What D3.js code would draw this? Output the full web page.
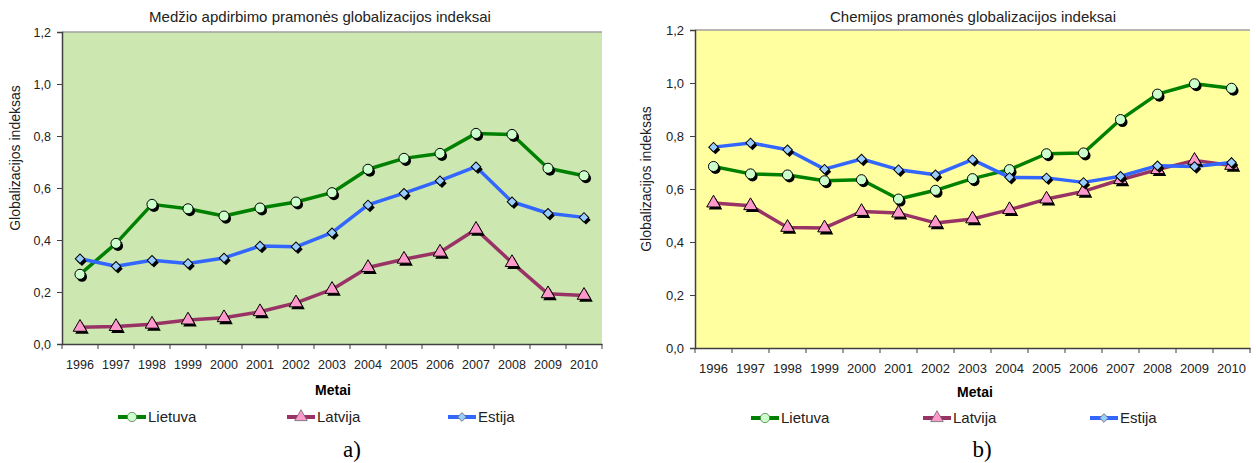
<!DOCTYPE html>
<html>
<head>
<meta charset="utf-8">
<script src="https://cdn.jsdelivr.net/npm/d3@7"></script>
<style>
  body { margin: 0; background: #fff; }
  svg { display: block; font-family: "Liberation Sans", Arial, sans-serif; }
</style>
</head>
<body>
<svg id="chart" width="1256" height="463"></svg>
<script>
const years = ["1996", "1997", "1998", "1999", "2000", "2001", "2002", "2003",
  "2004", "2005", "2006", "2007", "2008", "2009", "2010"];
const yTicks = [0, 0.2, 0.4, 0.6, 0.8, 1.0, 1.2];
const seriesNames = ["Lietuva", "Latvija", "Estija"];

// a) Medzio apdirbimo pramone
const woodLietuva = [0.268, 0.387, 0.537, 0.52, 0.492, 0.523, 0.546, 0.582, 0.672, 0.714, 0.733, 0.81, 0.806, 0.676, 0.647];
const woodLatvija = [0.064, 0.067, 0.076, 0.092, 0.101, 0.124, 0.158, 0.21, 0.294, 0.326, 0.353, 0.441, 0.313, 0.193, 0.187];
const woodEstija = [0.328, 0.299, 0.322, 0.31, 0.331, 0.377, 0.374, 0.428, 0.535, 0.58, 0.628, 0.682, 0.547, 0.503, 0.487];

// b) Chemijos pramone
const chemLietuva = [0.685, 0.657, 0.653, 0.631, 0.635, 0.562, 0.595, 0.639, 0.673, 0.733, 0.736, 0.862, 0.958, 0.997, 0.98];
const chemLatvija = [0.547, 0.537, 0.455, 0.453, 0.515, 0.509, 0.472, 0.487, 0.522, 0.562, 0.591, 0.635, 0.673, 0.708, 0.689];
const chemEstija = [0.758, 0.774, 0.748, 0.675, 0.713, 0.673, 0.654, 0.711, 0.644, 0.642, 0.625, 0.648, 0.688, 0.685, 0.7];

const lineColors = ["#008000", "#993366", "#3366ff"];
const markFill = ["#ccffcc", "#ff99cc", "#99ccff"];
const markShape = [d3.symbolCircle, d3.symbolTriangle, d3.symbolSquare];
const markSize = [80, 80, 45];
const markRot = [0, 0, 45];

const svg = d3.select("#chart");

function panel(cfg) {
  const g = svg.append("g");
  const x = d3.scaleBand().domain(years).range([cfg.left, cfg.right]);
  const y = d3.scaleLinear().domain([0, 1.2]).range([cfg.bottom, cfg.top]);

  g.append("rect")
    .attr("x", cfg.left).attr("y", cfg.top)
    .attr("width", cfg.right - cfg.left).attr("height", cfg.bottom - cfg.top)
    .attr("fill", cfg.bg);
  g.append("line")
    .attr("x1", cfg.left).attr("x2", cfg.right)
    .attr("y1", cfg.top).attr("y2", cfg.top)
    .attr("stroke", "#a0a0a0").attr("stroke-width", 1.5);

  // y axis
  const ya = g.append("g")
    .attr("transform", `translate(${cfg.left},0)`)
    .call(d3.axisLeft(y).tickValues(yTicks).tickSize(5).tickPadding(6)
      .tickFormat((d) => d3.format(".1f")(d).replace(".", ",")));
  ya.select(".domain").attr("stroke", "#404040").attr("stroke-width", 1.5);
  ya.selectAll(".tick line").attr("stroke", "#404040");
  ya.selectAll("text").attr("font-size", cfg.fs).attr("fill", "#222")
    .attr("font-family", "Liberation Sans, Arial, sans-serif");

  // x axis
  const xa = g.append("g")
    .attr("transform", `translate(0,${cfg.bottom})`)
    .call(d3.axisBottom(x).tickSize(0).tickPadding(cfg.xPad));
  xa.select(".domain").attr("stroke", "#404040").attr("stroke-width", 1.5);
  xa.selectAll("text").attr("font-size", cfg.fs).attr("fill", "#222")
    .attr("font-family", "Liberation Sans, Arial, sans-serif");
  xa.selectAll(".bound")
    .data(years.concat(["end"]))
    .join("line")
    .attr("class", "bound")
    .attr("x1", (d) => d === "end" ? cfg.right : x(d))
    .attr("x2", (d) => d === "end" ? cfg.right : x(d))
    .attr("y1", 0).attr("y2", 5)
    .attr("stroke", "#404040");

  // title and axis labels
  g.append("text")
    .attr("x", cfg.titleX).attr("y", 22)
    .attr("text-anchor", "middle").attr("font-size", 15).attr("fill", "#222")
    .text(cfg.title);
  g.append("text")
    .attr("transform", `translate(${cfg.yLabX},${cfg.yLabY}) rotate(-90)`)
    .attr("text-anchor", "middle").attr("font-size", 14).attr("fill", "#222")
    .text("Globalizacijos indeksas");
  g.append("text")
    .attr("x", cfg.metaiX).attr("y", cfg.metaiY)
    .attr("text-anchor", "middle").attr("font-size", 14).attr("font-weight", "bold")
    .text("Metai");

  const line = d3.line()
    .x((d, i) => x(years[i]) + x.bandwidth() / 2)
    .y((d) => y(d));

  cfg.series.forEach((vals, s) => {
    g.append("path")
      .datum(vals)
      .attr("fill", "none")
      .attr("stroke", lineColors[s])
      .attr("stroke-width", 3.5)
      .attr("stroke-linejoin", "round")
      .attr("d", line);
  });

  cfg.series.forEach((vals, s) => {
    const sym = d3.symbol().type(markShape[s]).size(markSize[s]);
    const mg = g.append("g");
    mg.selectAll(".shadow")
      .data(vals)
      .join("path")
      .attr("class", "shadow")
      .attr("d", sym)
      .attr("fill", "#000")
      .attr("transform", (d, i) => `translate(${x(years[i]) + x.bandwidth() / 2 + 2},${y(d) + 2.5}) rotate(${markRot[s]})`);
    mg.selectAll(".mark")
      .data(vals)
      .join("path")
      .attr("class", "mark")
      .attr("d", sym)
      .attr("fill", markFill[s])
      .attr("stroke", "#000")
      .attr("stroke-width", 1)
      .attr("transform", (d, i) => `translate(${x(years[i]) + x.bandwidth() / 2},${y(d)}) rotate(${markRot[s]})`);
  });

  // legend
  const lg = g.append("g").attr("class", "legend");
  seriesNames.forEach((name, s) => {
    const lx = cfg.legendX[s];
    const ly = cfg.legendY;
    lg.append("line")
      .attr("x1", lx).attr("x2", lx + 28)
      .attr("y1", ly).attr("y2", ly)
      .attr("stroke", lineColors[s]).attr("stroke-width", 4);
    lg.append("path")
      .attr("d", d3.symbol().type(markShape[s]).size(markSize[s] * 0.85))
      .attr("fill", markFill[s]).attr("stroke", s === 0 ? "#4a7a4a" : "#666").attr("stroke-width", 0.8)
      .attr("transform", `translate(${lx + 14},${ly}) rotate(${markRot[s]})`);
    lg.append("text")
      .attr("x", lx + 30).attr("y", ly + 5)
      .attr("font-size", 15).attr("fill", "#222")
      .text(name);
  });

  g.append("text")
    .attr("x", cfg.capX).attr("y", 457)
    .attr("text-anchor", "middle")
    .attr("font-family", "Liberation Serif, Times New Roman, serif")
    .attr("font-size", 23)
    .text(cfg.caption);
}

panel({
  left: 62, right: 602, top: 32, bottom: 344,
  bg: "#cce8b0", fs: 12.5, xPad: 16,
  title: "Medžio apdirbimo pramonės globalizacijos indeksai", titleX: 320,
  yLabX: 20, yLabY: 158, metaiX: 333, metaiY: 395,
  legendX: [118, 287, 448], legendY: 417,
  series: [woodLietuva, woodLatvija, woodEstija],
  capX: 352, caption: "a)"
});

panel({
  left: 695, right: 1250, top: 30, bottom: 348,
  bg: "#ffff9f", fs: 13, xPad: 16,
  title: "Chemijos pramonės globalizacijos indeksai", titleX: 973,
  yLabX: 651, yLabY: 179, metaiX: 975, metaiY: 397,
  legendX: [751, 923, 1090], legendY: 418,
  series: [chemLietuva, chemLatvija, chemEstija],
  capX: 982, caption: "b)"
});
</script>
</body>
</html>
